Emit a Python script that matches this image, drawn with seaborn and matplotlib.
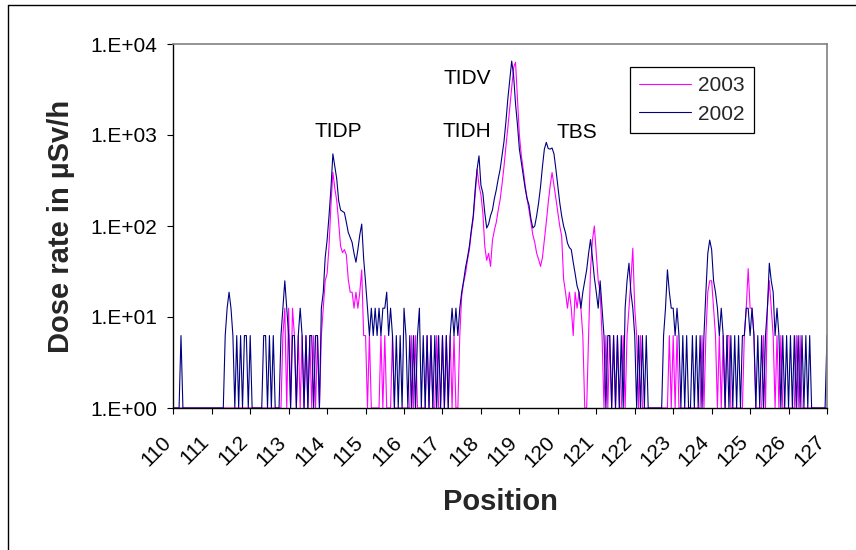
import numpy as np
import pandas as pd
import matplotlib
matplotlib.use("Agg")
import matplotlib.pyplot as plt
import matplotlib.transforms as mtransforms
from matplotlib.lines import Line2D
from matplotlib.ticker import FixedLocator, FixedFormatter, NullLocator
import seaborn as sns

# Measurement grid: one reading every 0.05 position units
positions = np.round(np.linspace(110, 127, 341), 2)

# Dose rate readings (uSv/h), 20 readings per position unit
dose_2002 = (
    [1, 1, 1, 1, 6.25, 1, 1, 1, 1, 1, 1, 1, 1, 1, 1, 1, 1, 1, 1, 1]                                  # 110
    + [1, 1, 1, 1, 1, 1, 1, 6.25, 12.5, 18.75, 12.5, 6.25, 1, 6.25, 1, 6.25, 1, 6.25, 6.25, 1]        # 111
    + [6.25, 1, 1, 1, 1, 1, 1, 6.25, 6.25, 1, 6.25, 1, 6.25, 1, 1, 1, 6.25, 12.5, 25, 12.5]           # 112
    + [6.25, 1, 6.25, 6.25, 1, 6.25, 12.5, 6.25, 1, 6.25, 1, 6.25, 6.25, 1, 6.25, 6.25, 1, 12.5, 18.75, 45]  # 113
    + [70, 130, 260, 620, 450, 330, 190, 150, 145, 140, 110, 85, 75, 66, 50, 40, 55, 80, 105, 44]     # 114
    + [24, 12.5, 6.25, 12.5, 6.25, 12.5, 6.25, 12.5, 6.25, 12.5, 12.5, 18.75, 6.25, 12.5, 6.25, 1, 6.25, 1, 6.25, 1]  # 115
    + [12.5, 6.25, 1, 6.25, 1, 6.25, 1, 6.25, 12.5, 1, 6.25, 1, 6.25, 1, 6.25, 1, 6.25, 1, 6.25, 1]   # 116
    + [6.25, 1, 6.25, 1, 6.25, 12.5, 6.25, 12.5, 6.25, 12.5, 18.75, 25, 35, 45, 60, 90, 130, 250, 420, 590]  # 117
    + [280, 230, 140, 95, 105, 130, 150, 200, 250, 330, 420, 600, 850, 1400, 2500, 4000, 6500, 4500, 2200, 1300]  # 118
    + [700, 500, 355, 260, 200, 170, 120, 95, 100, 130, 180, 270, 450, 700, 830, 710, 700, 720, 620, 420]  # 119
    + [275, 180, 129, 100, 84, 65, 58, 55, 40, 30, 22, 18.75, 12.5, 18.75, 25, 33, 50, 71, 45, 27]    # 120
    + [18.75, 12.5, 25, 12.5, 6.25, 1, 6.25, 6.25, 1, 6.25, 1, 6.25, 1, 6.25, 1, 12.5, 25, 39, 18.75, 12.5]  # 121
    + [6.25, 1, 6.25, 1, 6.25, 1, 6.25, 1, 1, 1, 1, 1, 1, 1, 1, 6.25, 12.5, 33, 18.75, 12.5]          # 122
    + [12.5, 6.25, 12.5, 6.25, 1, 6.25, 1, 6.25, 1, 1, 6.25, 1, 6.25, 1, 6.25, 1, 6.25, 18.75, 50, 70]  # 123
    + [55, 25, 18.75, 12.5, 6.25, 12.5, 6.25, 1, 6.25, 1, 6.25, 1, 6.25, 1, 6.25, 1, 6.25, 6.25, 12.5, 12.5]  # 124
    + [6.25, 12.5, 6.25, 1, 6.25, 1, 6.25, 1, 6.25, 12.5, 39, 25, 18.75, 6.25, 12.5, 6.25, 1, 6.25, 1, 6.25]  # 125
    + [1, 6.25, 1, 6.25, 1, 6.25, 1, 6.25, 1, 6.25, 1, 6.25, 1, 1, 1, 1, 1, 1, 1, 1]                 # 126
    + [6.25]                                                                                          # 127
)

dose_2003 = (
    [1] * 20                                                                                          # 110
    + [1] * 20                                                                                        # 111
    + [1, 1, 1, 1, 1, 1, 1, 1, 1, 1, 1, 1, 1, 1, 1, 1, 1, 6.25, 12.5, 1]                              # 112
    + [12.5, 1, 12.5, 6.25, 1, 6.25, 1, 6.25, 1, 6.25, 1, 6.25, 1, 6.25, 1, 6.25, 1, 6.25, 12.5, 25]   # 113
    + [30, 60, 170, 390, 260, 190, 110, 60, 51, 55, 48, 26, 18.75, 18.75, 12.5, 18.75, 12.5, 18.75, 33, 6.25]  # 114
    + [6.25, 1, 6.25, 1, 1, 1, 1, 1, 6.25, 1, 6.25, 1, 1, 1, 6.25, 1, 1, 1, 1, 1]                     # 115
    + [1, 1, 1, 1, 6.25, 1, 6.25, 1, 1, 1, 1, 1, 6.25, 1, 6.25, 1, 1, 6.25, 1, 1]                     # 116
    + [6.25, 1, 6.25, 1, 6.25, 1, 6.25, 1, 1, 6.25, 17, 24, 30, 42, 55, 85, 120, 220, 420, 280]       # 117
    + [220, 140, 60, 42, 50, 36, 70, 90, 110, 150, 195, 290, 450, 750, 1200, 2000, 3300, 5500, 6300, 2500]  # 118
    + [1000, 600, 420, 280, 200, 150, 110, 80, 66, 50, 43, 36, 45, 70, 110, 180, 275, 387, 280, 200]  # 119
    + [140, 100, 77, 26, 18.75, 12.5, 18.75, 12.5, 6.25, 18.75, 12.5, 18.75, 12.5, 6.25, 1, 1, 6.25, 33, 70, 100]  # 120
    + [50, 25, 18.75, 6.25, 1, 6.25, 1, 6.25, 1, 6.25, 1, 6.25, 1, 1, 6.25, 1, 6.25, 12.5, 25, 57]    # 121
    + [12.5, 6.25, 1, 6.25, 1, 1, 1, 1, 1, 1, 1, 1, 1, 1, 1, 1, 1, 1, 6.25, 1]                        # 122
    + [6.25, 1, 6.25, 1, 1, 1, 1, 1, 1, 1, 1, 1, 1, 1, 1, 6.25, 1, 6.25, 18.75, 25]                   # 123
    + [25, 12.5, 6.25, 1, 6.25, 1, 6.25, 1, 6.25, 6.25, 1, 1, 1, 1, 1, 1, 1, 6.25, 12.5, 34]          # 124
    + [12.5, 12.5, 6.25, 1, 1, 1, 1, 6.25, 1, 12.5, 25, 12.5, 6.25, 1, 6.25, 1, 6.25, 1, 1, 1]        # 125
    + [1, 1, 1, 1, 6.25, 1, 6.25, 1, 1, 1, 1, 1, 1, 1, 1, 1, 1, 1, 1, 1]                              # 126
    + [1]                                                                                             # 127
)

years = ["2003", "2002"]
year_colors = ["#FF00FF", "#000080"]

x_ticks = list(range(110, 128))
y_ticks = [1, 10, 100, 1000, 10000]
y_tick_labels = ["1.E+00", "1.E+01", "1.E+02", "1.E+03", "1.E+04"]

peak_names = ["TIDP", "TIDH", "TIDV", "TBS"]
peak_x = [114.28, 117.63, 117.64, 120.5]
peak_y = [1090, 1090, 4170, 1060]

sns.set_style("ticks")
plt.rcParams["font.family"] = ["Liberation Sans", "DejaVu Sans"]

df = pd.DataFrame({
    "Position": np.concatenate([positions, positions]),
    "Dose": dose_2003 + dose_2002,
    "Year": [years[0]] * len(dose_2003) + [years[1]] * len(dose_2002),
})

W, H = 856, 550
fig = plt.figure(figsize=(W / 100, H / 100), dpi=100)
fig.patch.set_facecolor("white")
left, right, top, bottom = 173.3, 827, 44, 408
ax = fig.add_axes([left / W, 1 - bottom / H, (right - left) / W, (bottom - top) / H])

sns.lineplot(data=df, x="Position", y="Dose", hue="Year", hue_order=years,
             palette=dict(zip(years, year_colors)), estimator=None,
             linewidth=0.8, ax=ax)

ax.set_yscale("log")
ax.set_ylim(1, 10000)
ax.set_xlim(110, 127)

ax.yaxis.set_major_locator(FixedLocator(y_ticks))
ax.yaxis.set_major_formatter(FixedFormatter(y_tick_labels))
ax.yaxis.set_minor_locator(NullLocator())
ax.xaxis.set_major_locator(FixedLocator(x_ticks))
ax.xaxis.set_major_formatter(FixedFormatter([str(t) for t in x_ticks]))

ax.tick_params(axis="y", length=4.5, width=0.8, pad=7, labelsize=15, colors="black")
ax.tick_params(axis="x", length=4.5, width=0.8, pad=13, labelsize=15, colors="black")
for lab in ax.get_xticklabels():
    lab.set_rotation(45)
    lab.set_rotation_mode("anchor")
    lab.set_ha("right")
    lab.set_va("top")
    lab.set_transform(lab.get_transform() +
                      mtransforms.ScaledTranslation(-12 / 100, 0, fig.dpi_scale_trans))

for side in ["left", "bottom"]:
    ax.spines[side].set_color("black")
    ax.spines[side].set_linewidth(1.0)
for side in ["top", "right"]:
    ax.spines[side].set_visible(True)
    ax.spines[side].set_color("#808080")
    ax.spines[side].set_linewidth(1.2)

ax.set_xlabel("Position", fontsize=21, fontweight="bold", labelpad=13)
ax.set_ylabel("Dose rate in µSv/h", fontsize=21, fontweight="bold", labelpad=11)

for name, px, py in zip(peak_names, peak_x, peak_y):
    ax.text(px, py, name, fontsize=15, ha="center", va="center", color="black")

handles, labels = ax.get_legend_handles_labels()
leg = ax.legend(handles, labels, loc="upper left",
                bbox_to_anchor=((630 - left) / (right - left), (bottom - 67) / (bottom - top)),
                borderaxespad=0, fontsize=15, handlelength=2.5, handletextpad=0.3,
                labelspacing=0.45, borderpad=0.45, fancybox=False, frameon=True,
                edgecolor="black", framealpha=1)
leg.get_frame().set_linewidth(0.9)

# outer chart border (top and left edges)
fig.add_artist(Line2D([8 / W, 8 / W], [0, 1 - 5 / H], transform=fig.transFigure,
                      color="black", linewidth=1.0))
fig.add_artist(Line2D([8 / W, 1], [1 - 5 / H, 1 - 5 / H], transform=fig.transFigure,
                      color="black", linewidth=1.0))

fig.savefig("out.png", dpi=100)
